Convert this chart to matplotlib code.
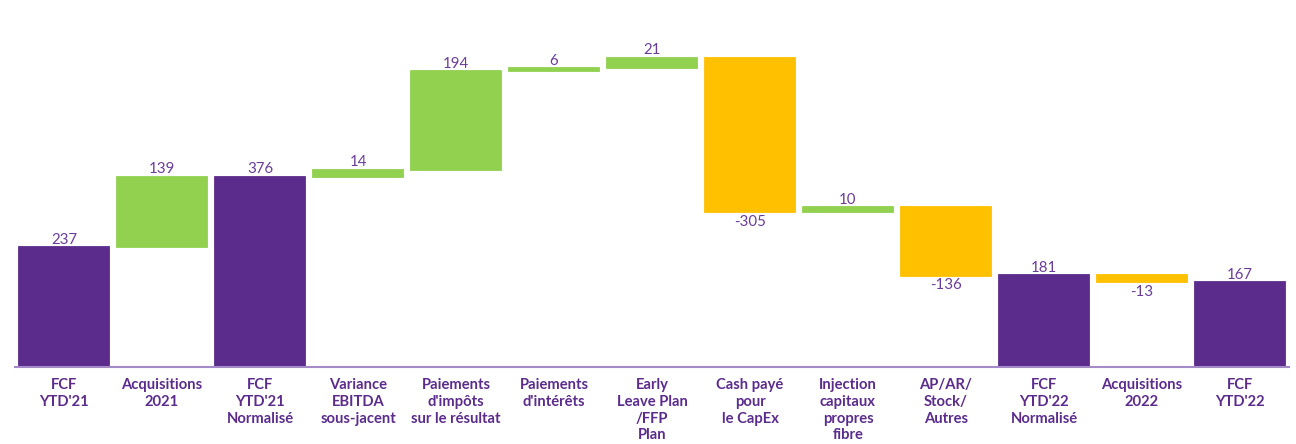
import numpy as np
import matplotlib
matplotlib.use('Agg')
from matplotlib import pyplot as plt

plt.rcParams['font.family'] = ['Lato', 'DejaVu Sans']

# chart data
categories = ["FCF\nYTD'21", "Acquisitions\n2021", "FCF\nYTD'21\nNormalisé",
              "Variance\nEBITDA\nsous-jacent", "Paiements\nd'impôts\nsur le résultat",
              "Paiements\nd'intérêts", "Early\nLeave Plan\n/FFP\nPlan",
              "Cash payé\npour\nle CapEx", "Injection\ncapitaux\npropres\nfibre",
              "AP/AR/\nStock/\nAutres", "FCF\nYTD'22\nNormalisé",
              "Acquisitions\n2022", "FCF\nYTD'22"]
values = [237, 139, 376, 14, 194, 6, 21, -305, 10, -136, 181, -13, 167]
is_total = [True, False, True, False, False, False, False, False, False, False, True, False, True]

PURPLE = '#5B2C8C'
GREEN = '#92D050'
YELLOW = '#FFC000'
TEXT = '#6A3D9A'

fig = plt.figure(figsize=(12.96, 4.44), dpi=100)
ax = fig.add_axes([15/1296, 1-367/444, (1289-15)/1296, 367/444])

x = np.arange(len(values))
running = 0
for i, (v, tot) in enumerate(zip(values, is_total)):
    if tot:
        bottom, height, color = 0, v, PURPLE
        running = v
        top = v
    else:
        bottom = running if v >= 0 else running + v
        height = abs(v)
        color = GREEN if v >= 0 else YELLOW
        running += v
        top = bottom + height
    ax.bar(x[i], height, bottom=bottom, width=0.915, color=color,
           edgecolor=color, linewidth=1.3)
    if tot or v >= 0:
        ax.text(x[i], top + 1, str(v), ha='center', va='bottom', fontsize=10.8,
                color=TEXT)
    else:
        ax.text(x[i], bottom - 5, str(v), ha='center', va='top', fontsize=10.8,
                color=TEXT)

ax.set_xlim(-0.5, len(values) - 0.5)
ax.set_ylim(0, 367/0.506)
ax.axhline(0, color='#A48BC8', linewidth=1.5, clip_on=False)
for s in ax.spines.values():
    s.set_visible(False)
ax.set_yticks([])
ax.set_xticks(x)
ax.set_xticklabels(categories, fontsize=10.6, fontweight='bold', color=PURPLE,
                   linespacing=1.25)
ax.tick_params(axis='x', length=0, pad=8)

plt.savefig('out.png', dpi=100)
